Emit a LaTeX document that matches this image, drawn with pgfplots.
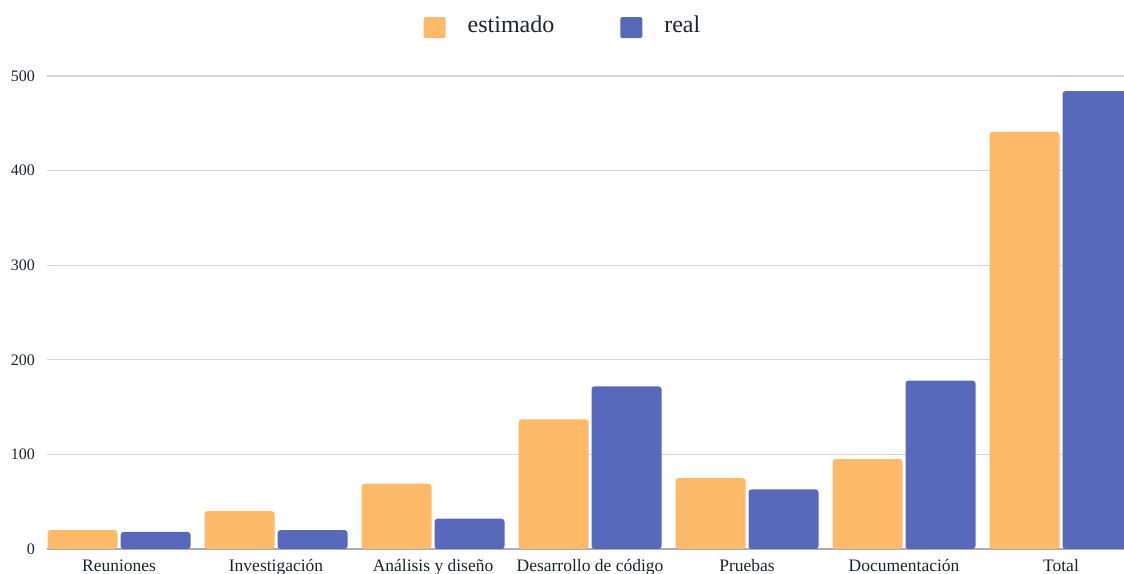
\documentclass[border=0pt]{standalone}
\usepackage{fontspec}
\setmainfont{Liberation Serif}
\usepackage{pgfplots}
\pgfplotsset{compat=1.18}

\definecolor{estim}{HTML}{FEBA68}
\definecolor{realc}{HTML}{5868BA}
\definecolor{gridc}{HTML}{D3D7DD}
\definecolor{basec}{HTML}{A9AEB4}
\definecolor{txt}{HTML}{1E2230}

% square legend marker followed by a fixed gap before the text
\pgfplotsset{
  sqlegend/.style={
    legend image code/.code={
      \fill[##1, rounded corners=1.5bp] (0bp,-13.2bp) rectangle (22bp,7.8bp);
      \path[draw=none, fill=none] (0bp,-13.2bp) rectangle (44bp,7.8bp);
    }
  }
}

\begin{document}
\begin{tikzpicture}
\path[use as bounding box] (0,0) rectangle (1124bp,574bp);
\begin{axis}[
  at={(47bp,25bp)}, anchor=south west,
  scale only axis, width=1077bp, height=473bp,
  xmin=-0.459, xmax=6.401, ymin=0, ymax=500,
  ybar=3bp, bar width=70bp,
  axis line style={draw=none},
  major tick length=0pt,
  tick style={draw=none},
  ymajorgrids, grid style={gridc, line width=1.2bp},
  ytick={0,100,200,300,400,500},
  extra y ticks={0},
  extra y tick labels={},
  extra y tick style={grid style={basec, line width=1.4bp}},
  /pgf/number format/assume math mode=true,
  yticklabel style={anchor=east, inner sep=0pt, xshift=-12bp,
    font=\fontsize{16bp}{18bp}\selectfont, text=txt},
  xtick={0,1,2,3,4,5,6},
  xticklabels={Reuniones, Investigación, Análisis y diseño,
    Desarrollo de código, Pruebas, Documentación, Total},
  xticklabel style={anchor=base, yshift=-22bp,
    font=\fontsize{17.5bp}{20bp}\selectfont, text=txt},
  legend columns=2,
  legend style={at={(0.4782,1)}, anchor=south, yshift=37.7bp,
    draw=none, fill=none, inner sep=0pt, column sep=0pt,
    font=\fontsize{24bp}{28bp}\selectfont, text=txt,
    nodes={inner sep=0pt},
    /tikz/every even column/.append style={column sep=66bp}},
]
\addplot[fill=estim, draw=none, rounded corners=3bp, sqlegend]
  coordinates {(0,20) (1,40) (2,69) (3,137) (4,75) (5,95) (6,441)};
\addlegendentry{estimado}
\addplot[fill=realc, draw=none, rounded corners=3bp, sqlegend]
  coordinates {(0,18) (1,20) (2,32) (3,172) (4,63) (5,178) (6,484)};
\addlegendentry{real}
\end{axis}
\end{tikzpicture}
\end{document}
